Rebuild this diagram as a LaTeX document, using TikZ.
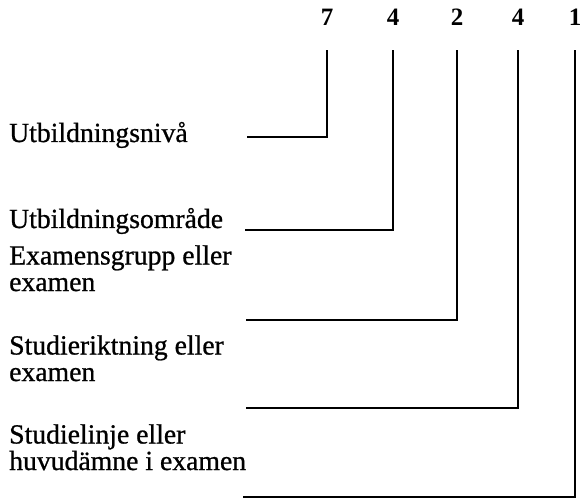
\documentclass[tikz,border=0pt]{standalone}
\usepackage{fontspec}
\setmainfont{Liberation Serif}
\newfontfamily\lblfont[FakeBold=0.8]{Liberation Serif}
\tikzset{
  digit/.style={inner sep=0pt, anchor=base, font=\fontsize{25}{28}\selectfont\bfseries},
  lbl/.style={inner sep=0pt, anchor=base west, align=left, font=\lblfont\fontsize{27.7}{26.5}\selectfont},
  conn/.style={line width=2.2pt, line join=miter, shorten <=24pt}
}
\begin{document}
\begin{tikzpicture}[x=1pt,y=-1pt]
\useasboundingbox[fill=white] (0,0) rectangle (585,502);
% digits
\node[digit] (d1) at (327,26) {7};
\node[digit] (d2) at (393,26) {4};
\node[digit] (d3) at (457,26) {2};
\node[digit] (d4) at (518,26) {4};
\node[digit] (d5) at (575,26) {1};
% labels
\node[lbl] (l1) at (9,142) {Utbildningsnivå};
\node[lbl] (l2) at (9,228) {Utbildningsområde};
\node[lbl] (l3) at (9,291) {Examensgrupp eller\\examen};
\node[lbl] (l4) at (9,381) {Studieriktning eller\\examen};
\node[lbl] (l5) at (9,470) {Studielinje eller\\huvudämne i examen};
% free ends of the connectors
\coordinate (e1) at (247,137);
\coordinate (e2) at (245,230);
\coordinate (e3) at (246,320);
\coordinate (e4) at (246,408);
\coordinate (e5) at (243,497);
% connectors
\draw[conn] (d1.south) |- (e1);
\draw[conn] (d2.south) |- (e2);
\draw[conn] (d3.south) |- (e3);
\draw[conn] (d4.south) |- (e4);
\draw[conn] (d5.south) |- (e5);
\end{tikzpicture}
\end{document}
